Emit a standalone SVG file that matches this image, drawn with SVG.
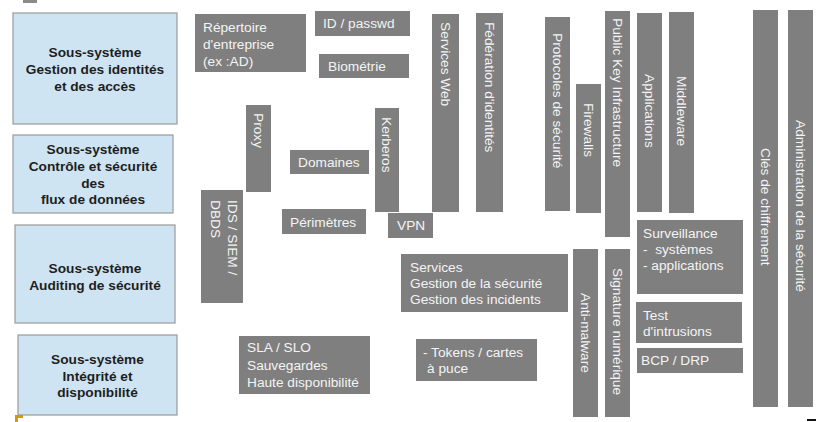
<svg xmlns="http://www.w3.org/2000/svg" width="835" height="422" viewBox="0 0 835 422">
<style>
.sub rect{fill:#cfe4f3;stroke:#9a9a9a;stroke-width:1.2}
.sub text{font-family:"Liberation Sans",Arial,sans-serif;font-size:13.7px;font-weight:bold;fill:#1e1e1e;text-anchor:middle}
.g rect{fill:#7f7f7f}
.g text{font-family:"Liberation Sans",Arial,sans-serif;font-size:13.7px;fill:#f4f4f4}
</style>
<rect x="23" y="0" width="14" height="3" fill="#8a8a8a"/>
<g id="sub-identites" class="sub">
<rect x="13" y="13" width="164" height="111"/>
<text x="95" y="57">Sous-système</text>
<text x="95" y="74">Gestion des identités</text>
<text x="95" y="91">et des accès</text>
</g>
<g id="sub-flux" class="sub">
<rect x="13" y="135" width="160" height="78"/>
<text x="93" y="154">Sous-système</text>
<text x="93" y="171">Contrôle et sécurité</text>
<text x="93" y="188">des</text>
<text x="93" y="204">flux de données</text>
</g>
<g id="sub-auditing" class="sub">
<rect x="15" y="225" width="160" height="98"/>
<text x="95" y="273">Sous-système</text>
<text x="95" y="290">Auditing de sécurité</text>
</g>
<g id="sub-integrite" class="sub">
<rect x="18" y="335" width="159" height="80"/>
<text x="97.5" y="364">Sous-système</text>
<text x="97.5" y="381">Intégrité et</text>
<text x="97.5" y="397">disponibilité</text>
</g>
<g id="repertoire" class="g"><rect x="195" y="14" width="111" height="58"/>
<text x="203" y="32">Répertoire</text><text x="203" y="49">d'entreprise</text><text x="203" y="66">(ex :AD)</text></g>
<g id="idpasswd" class="g"><rect x="315" y="11" width="95" height="25"/><text x="323" y="28">ID / passwd</text></g>
<g id="biometrie" class="g"><rect x="319" y="54" width="90" height="24"/><text x="328" y="71">Biométrie</text></g>
<g id="proxy" class="g"><rect x="246" y="105" width="25" height="87"/><text transform="translate(258.5,113) rotate(90)" x="0" y="5">Proxy</text></g>
<g id="domaines" class="g"><rect x="290" y="150" width="79" height="24"/><text x="298" y="167">Domaines</text></g>
<g id="kerberos" class="g"><rect x="375" y="108" width="24" height="104"/><text transform="translate(387,117) rotate(90)" x="0" y="5">Kerberos</text></g>
<g id="ids" class="g"><rect x="201" y="190" width="42" height="113"/><text transform="translate(233,200) rotate(90)"><tspan x="0" y="5">IDS / SIEM /</tspan><tspan x="0" y="22">DBDS</tspan></text></g>
<g id="perimetres" class="g"><rect x="282" y="209" width="84" height="25"/><text x="290" y="227">Périmètres</text></g>
<g id="vpn" class="g"><rect x="388" y="213" width="45" height="25"/><text x="397" y="230">VPN</text></g>
<g id="services-web" class="g"><rect x="432" y="14" width="27" height="198"/><text transform="translate(445.5,22) rotate(90)" x="0" y="5">Services Web</text></g>
<g id="federation" class="g"><rect x="476" y="13" width="27" height="199"/><text transform="translate(489.5,22) rotate(90)" x="0" y="5">Fédération d'identités</text></g>
<g id="protocoles" class="g"><rect x="545" y="17" width="25" height="194"/><text transform="translate(557.5,33) rotate(90)" x="0" y="5">Protocoles de sécurité</text></g>
<g id="firewalls" class="g"><rect x="576" y="84" width="25" height="129"/><text transform="translate(588.5,103) rotate(90)" x="0" y="5">Firewalls</text></g>
<g id="pki" class="g"><rect x="605" y="11" width="25" height="226"/><text transform="translate(617.5,18) rotate(90)" x="0" y="5">Public Key Infrastructure</text></g>
<g id="applications" class="g"><rect x="637" y="13" width="25" height="199"/><text transform="translate(649.5,74) rotate(90)" x="0" y="5">Applications</text></g>
<g id="middleware" class="g"><rect x="669" y="12" width="25" height="201"/><text transform="translate(681.5,76) rotate(90)" x="0" y="5">Middleware</text></g>
<g id="cles" class="g"><rect x="753" y="10" width="25" height="397"/><text transform="translate(765.5,148) rotate(90)" x="0" y="5">Clés de chiffrement</text></g>
<g id="administration" class="g"><rect x="788" y="10" width="25" height="397"/><text transform="translate(800.5,120) rotate(90)" x="0" y="5">Administration de la sécurité</text></g>
<g id="services" class="g"><rect x="401" y="254" width="167" height="58"/>
<text x="410" y="272">Services</text><text x="410" y="288">Gestion de la sécurité</text><text x="410" y="304">Gestion des incidents</text></g>
<g id="antimalware" class="g"><rect x="573" y="249" width="25" height="168"/><text transform="translate(585.5,293) rotate(90)" x="0" y="5">Anti-malware</text></g>
<g id="signature" class="g"><rect x="605" y="249" width="25" height="168"/><text transform="translate(617.5,268) rotate(90)" x="0" y="5">Signature numérique</text></g>
<g id="surveillance" class="g"><rect x="637" y="220" width="106" height="74"/>
<text x="643" y="238">Surveillance</text><text x="643" y="254" xml:space="preserve">-  systèmes</text><text x="643" y="270">- applications</text></g>
<g id="test" class="g"><rect x="636" y="302" width="106" height="41"/>
<text x="643" y="320">Test</text><text x="643" y="336">d'intrusions</text></g>
<g id="bcp" class="g"><rect x="637" y="348" width="106" height="25"/><text x="641" y="365">BCP / DRP</text></g>
<g id="tokens" class="g"><rect x="416" y="339" width="121" height="42"/>
<text x="423" y="357">- Tokens / cartes</text><text x="427" y="373">à puce</text></g>
<g id="sla" class="g"><rect x="239" y="336" width="131" height="58"/>
<text x="247" y="352">SLA / SLO</text><text x="247" y="369.5">Sauvegardes</text><text x="247" y="387">Haute disponibilité</text></g>
<g id="connectors"></g>
<path d="M15 422 V415 H23 V418 H18 V422 Z" fill="#d09a10"/>
<rect x="807" y="419" width="9" height="2" fill="#111"/>
</svg>
